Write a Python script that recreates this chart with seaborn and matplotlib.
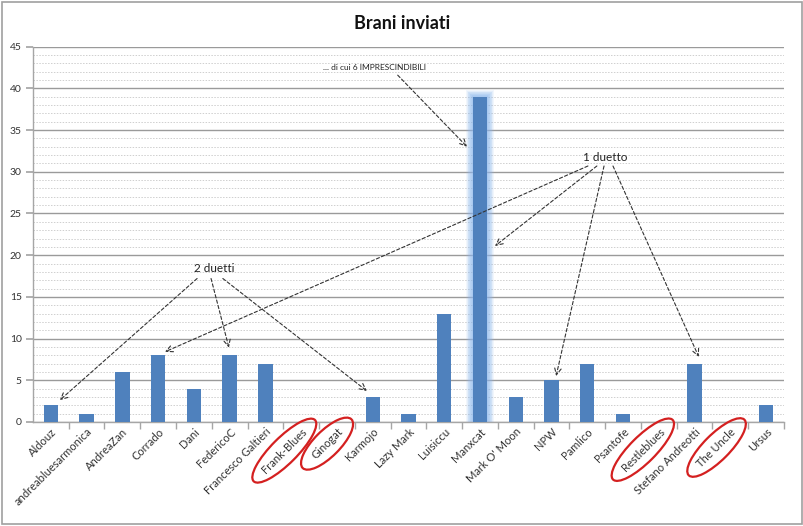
import matplotlib
matplotlib.use("Agg")
import matplotlib.pyplot as plt
import seaborn as sns
import pandas as pd
from matplotlib.patches import Ellipse, Rectangle
from matplotlib.transforms import IdentityTransform
from matplotlib.ticker import MultipleLocator, FixedLocator

categories = ["Aldouz", "andreabluesarmonica", "AndreaZan", "Corrado", "Dani",
              "FedericoC", "Francesco Galtieri", "Frank-Blues", "Ginogat", "Karmojo",
              "Lazy Mark", "Luisiccu", "Manxcat", "Mark O' Moon", "NPW", "Pamlico",
              "Psantofe", "Restleblues", "Stefano Andreotti", "The Uncle", "Ursus"]
values = [2, 1, 6, 8, 4, 8, 7, 0, 0, 3, 1, 13, 39, 3, 5, 7, 1, 0, 7, 0, 2]
circled = ["Frank-Blues", "Ginogat", "Restleblues", "The Uncle"]
highlight = "Manxcat"

sns.set_theme(style="white")
plt.rcParams['font.family'] = ['Lato', 'DejaVu Sans']

df = pd.DataFrame({"nome": categories, "brani": values})

fig = plt.figure(figsize=(8.04, 5.26), dpi=100)
ax = fig.add_axes([0.041, 0.198, 0.934, 0.713])

bar_color = "#4F81BD"
hi_idx = categories.index(highlight)
# soft glow behind highlighted bar
n_layers = 10
for k in range(n_layers):
    extra = 0.36 * (1 - k / n_layers)  # in category units
    ax.bar(hi_idx, values[hi_idx] + extra * 2.2, width=0.4 + extra, bottom=0,
           color="#8DB8EE", alpha=0.12, linewidth=0, zorder=2)

sns.barplot(data=df, x="nome", y="brani", color=bar_color, width=0.4,
            saturation=1, ax=ax, zorder=3, linewidth=0, edgecolor="none")

ax.set_xlim(-0.5, len(categories) - 0.5)
ax.set_ylim(0, 45)
ax.yaxis.set_major_locator(MultipleLocator(5))
ax.yaxis.set_minor_locator(MultipleLocator(1))
ax.grid(which="major", axis="y", color="#9a9a9a", linewidth=1.0, linestyle="-", zorder=0)
ax.grid(which="minor", axis="y", color="#cfcfcf", linewidth=0.7, linestyle=(0, (1.5, 1.5)), zorder=0)
ax.set_axisbelow(True)
ax.set_xlabel("")
ax.set_ylabel("")
for s in ["top", "right"]:
    ax.spines[s].set_visible(False)
for s in ["left", "bottom"]:
    ax.spines[s].set_color("#a6a6a6")
    ax.spines[s].set_linewidth(1.0)

ax.tick_params(axis="y", which="major", length=5, color="#a6a6a6", labelsize=7.5,
               labelcolor="#333333", left=True, pad=3)
ax.tick_params(axis="y", which="minor", length=0)
ax.xaxis.set_minor_locator(FixedLocator([i + 0.5 for i in range(len(categories))]))
ax.tick_params(axis="x", which="major", length=0, labelsize=8, labelcolor="#333333", pad=3)
ax.tick_params(axis="x", which="minor", length=5, color="#a6a6a6", bottom=True)
ax.set_xticks(range(len(categories)))
ax.set_xticklabels(categories, rotation=45, ha="right", rotation_mode="anchor")

fig.text(0.5, 0.955, "Brani inviati", ha="center", va="center", fontsize=13,
         fontweight="bold", color="#111111")

arrow = dict(arrowstyle="->", linestyle=(0, (3, 2)), color="#333333", lw=0.8,
             shrinkA=0, shrinkB=0)
ax.text(9.06, 42.5, "... di cui 6 IMPRESCINDIBILI", fontsize=6, ha="center",
        va="center", color="#222222")
ax.annotate("", xy=(11.64, 33.0), xytext=(9.7, 41.6), arrowprops=arrow)

ax.text(15.5, 31.7, "1 duetto", fontsize=8.5, ha="center", va="center", color="#222222")
for sx, tx, ty in [(15.02, 3.19, 8.4), (15.27, 12.42, 21.1), (15.47, 14.13, 5.5), (15.72, 18.12, 7.8)]:
    ax.annotate("", xy=(tx, ty), xytext=(sx, 30.7), arrowprops=arrow)

ax.text(4.56, 18.4, "2 duetti", fontsize=8.5, ha="center", va="center", color="#222222")
for sx, tx, ty in [(4.09, 0.25, 2.6), (4.48, 4.98, 8.9), (4.81, 8.84, 3.7)]:
    ax.annotate("", xy=(tx, ty), xytext=(sx, 17.2), arrowprops=arrow)

fig.patches.append(Rectangle((0.002, 0.003), 0.995, 0.993, transform=fig.transFigure,
                             fill=False, edgecolor="#a0a0a0", linewidth=1.2))

fig.canvas.draw()
for lbl in ax.get_xticklabels():
    if lbl.get_text() in circled:
        bb = lbl.get_window_extent()
        cx, cy = (bb.x0 + bb.x1) / 2, (bb.y0 + bb.y1) / 2
        diag = ((bb.x1 - bb.x0) ** 2 + (bb.y1 - bb.y0) ** 2) ** 0.5
        e = Ellipse((cx, cy), width=diag * 0.9 + 24, height=26, angle=45,
                    transform=IdentityTransform(), fill=False, edgecolor="#d42020", linewidth=1.6)
        fig.patches.append(e)

fig.savefig("out.png", dpi=100)
